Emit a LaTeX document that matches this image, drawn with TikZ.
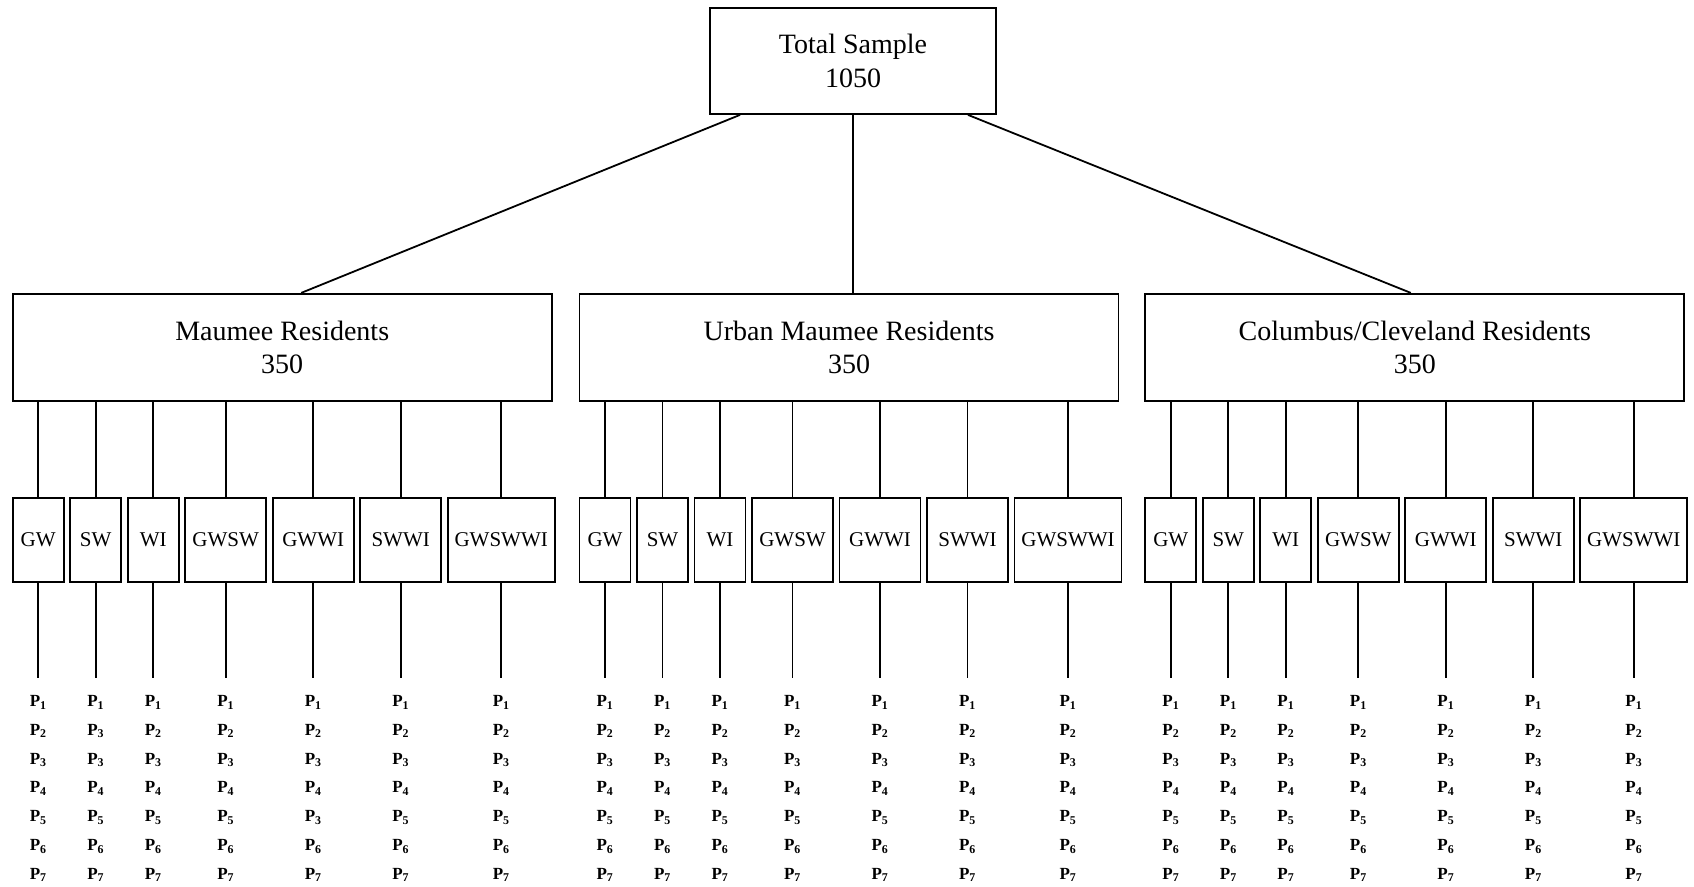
\documentclass[tikz,border=0pt]{standalone}
\usepackage{fontspec}
\setmainfont{Liberation Serif}
\usetikzlibrary{positioning}

\newcommand{\plist}[7]{P\textsubscript{#1}\\P\textsubscript{#2}\\P\textsubscript{#3}\\P\textsubscript{#4}\\P\textsubscript{#5}\\P\textsubscript{#6}\\P\textsubscript{#7}}
\newcommand{\pall}{\plist{1}{2}{3}{4}{5}{6}{7}}

\begin{document}
\begin{tikzpicture}[x=1pt,y=-1pt,line width=1.8pt,node distance=4.7pt,
    bigbox/.style={draw,align=center,minimum width=539pt,minimum height=107pt,inner sep=0pt,font=\fontsize{28}{33.5}\selectfont},
    topbox/.style={bigbox,minimum width=286pt,minimum height=106pt},
    catbox/.style={draw,minimum height=84pt,inner sep=0pt,font=\fontsize{21}{24}\selectfont},
    narrow/.style={catbox,minimum width=51pt},
    medium/.style={catbox,minimum width=81pt},
    wide/.style={catbox,minimum width=107pt},
    plabel/.style={align=center,inner xsep=0pt,inner ysep=17pt,font=\fontsize{17}{28.8}\selectfont\bfseries}]
\useasboundingbox (0,0) rectangle (1694,886);

% top and residence boxes
\node[topbox] (total)                                   at (853,61) {Total Sample\\1050};
\node[bigbox] (urban)  [below=178pt of total, xshift=-4pt]          {Urban Maumee Residents\\350};
\node[bigbox] (maumee) [left=26pt of urban]                         {Maumee Residents\\350};
\node[bigbox] (colcle) [right=25pt of urban]                        {Columbus/Cleveland Residents\\350};

\path ([xshift=-113pt]total.south) edge ([xshift=19pt]maumee.north)
      (total)                      edge (total.south |- urban.north)
      ([xshift=115pt]total.south)  edge ([xshift=-4pt]colcle.north);

% Maumee
\node[narrow] (gw1)     [below=95pt of maumee.south west, anchor=north west] {GW};
\node[narrow] (sw1)     [right=of gw1]    {SW};
\node[narrow] (wi1)     [right=of sw1]    {WI};
\node[medium] (gwsw1)   [right=of wi1]    {GWSW};
\node[medium] (gwwi1)   [right=of gwsw1]  {GWWI};
\node[medium] (swwi1)   [right=of gwwi1]  {SWWI};
\node[wide]   (gwswwi1) [right=of swwi1]  {GWSWWI};
\node[plabel] (pgw1)     [below=95pt of gw1]     {\pall};
\node[plabel] (psw1)     [below=95pt of sw1]     {\plist{1}{3}{3}{4}{5}{6}{7}};
\node[plabel] (pwi1)     [below=95pt of wi1]     {\pall};
\node[plabel] (pgwsw1)   [below=95pt of gwsw1]   {\pall};
\node[plabel] (pgwwi1)   [below=95pt of gwwi1]   {\plist{1}{2}{3}{4}{3}{6}{7}};
\node[plabel] (pswwi1)   [below=95pt of swwi1]   {\pall};
\node[plabel] (pgwswwi1) [below=95pt of gwswwi1] {\pall};
\path (gw1.north |- maumee.south)     edge (gw1)     (gw1)     edge (pgw1)
      (sw1.north |- maumee.south)     edge (sw1)     (sw1)     edge (psw1)
      (wi1.north |- maumee.south)     edge (wi1)     (wi1)     edge (pwi1)
      (gwsw1.north |- maumee.south)   edge (gwsw1)   (gwsw1)   edge (pgwsw1)
      (gwwi1.north |- maumee.south)   edge (gwwi1)   (gwwi1)   edge (pgwwi1)
      (swwi1.north |- maumee.south)   edge (swwi1)   (swwi1)   edge (pswwi1)
      (gwswwi1.north |- maumee.south) edge (gwswwi1) (gwswwi1) edge (pgwswwi1);

% Urban Maumee
\node[narrow] (gw2)     [below=95pt of urban.south west, anchor=north west] {GW};
\node[narrow] (sw2)     [right=of gw2]    {SW};
\node[narrow] (wi2)     [right=of sw2]    {WI};
\node[medium] (gwsw2)   [right=of wi2]    {GWSW};
\node[medium] (gwwi2)   [right=of gwsw2]  {GWWI};
\node[medium] (swwi2)   [right=of gwwi2]  {SWWI};
\node[wide]   (gwswwi2) [right=of swwi2]  {GWSWWI};
\node[plabel] (pgw2)     [below=95pt of gw2]     {\pall};
\node[plabel] (psw2)     [below=95pt of sw2]     {\pall};
\node[plabel] (pwi2)     [below=95pt of wi2]     {\pall};
\node[plabel] (pgwsw2)   [below=95pt of gwsw2]   {\pall};
\node[plabel] (pgwwi2)   [below=95pt of gwwi2]   {\pall};
\node[plabel] (pswwi2)   [below=95pt of swwi2]   {\pall};
\node[plabel] (pgwswwi2) [below=95pt of gwswwi2] {\pall};
\path (gw2.north |- urban.south)     edge (gw2)     (gw2)     edge (pgw2)
      (sw2.north |- urban.south)     edge (sw2)     (sw2)     edge (psw2)
      (wi2.north |- urban.south)     edge (wi2)     (wi2)     edge (pwi2)
      (gwsw2.north |- urban.south)   edge (gwsw2)   (gwsw2)   edge (pgwsw2)
      (gwwi2.north |- urban.south)   edge (gwwi2)   (gwwi2)   edge (pgwwi2)
      (swwi2.north |- urban.south)   edge (swwi2)   (swwi2)   edge (pswwi2)
      (gwswwi2.north |- urban.south) edge (gwswwi2) (gwswwi2) edge (pgwswwi2);

% Columbus/Cleveland
\node[narrow] (gw3)     [below=95pt of colcle.south west, anchor=north west] {GW};
\node[narrow] (sw3)     [right=of gw3]    {SW};
\node[narrow] (wi3)     [right=of sw3]    {WI};
\node[medium] (gwsw3)   [right=of wi3]    {GWSW};
\node[medium] (gwwi3)   [right=of gwsw3]  {GWWI};
\node[medium] (swwi3)   [right=of gwwi3]  {SWWI};
\node[wide]   (gwswwi3) [right=of swwi3]  {GWSWWI};
\node[plabel] (pgw3)     [below=95pt of gw3]     {\pall};
\node[plabel] (psw3)     [below=95pt of sw3]     {\pall};
\node[plabel] (pwi3)     [below=95pt of wi3]     {\pall};
\node[plabel] (pgwsw3)   [below=95pt of gwsw3]   {\pall};
\node[plabel] (pgwwi3)   [below=95pt of gwwi3]   {\pall};
\node[plabel] (pswwi3)   [below=95pt of swwi3]   {\pall};
\node[plabel] (pgwswwi3) [below=95pt of gwswwi3] {\pall};
\path (gw3.north |- colcle.south)     edge (gw3)     (gw3)     edge (pgw3)
      (sw3.north |- colcle.south)     edge (sw3)     (sw3)     edge (psw3)
      (wi3.north |- colcle.south)     edge (wi3)     (wi3)     edge (pwi3)
      (gwsw3.north |- colcle.south)   edge (gwsw3)   (gwsw3)   edge (pgwsw3)
      (gwwi3.north |- colcle.south)   edge (gwwi3)   (gwwi3)   edge (pgwwi3)
      (swwi3.north |- colcle.south)   edge (swwi3)   (swwi3)   edge (pswwi3)
      (gwswwi3.north |- colcle.south) edge (gwswwi3) (gwswwi3) edge (pgwswwi3);
\end{tikzpicture}
\end{document}
